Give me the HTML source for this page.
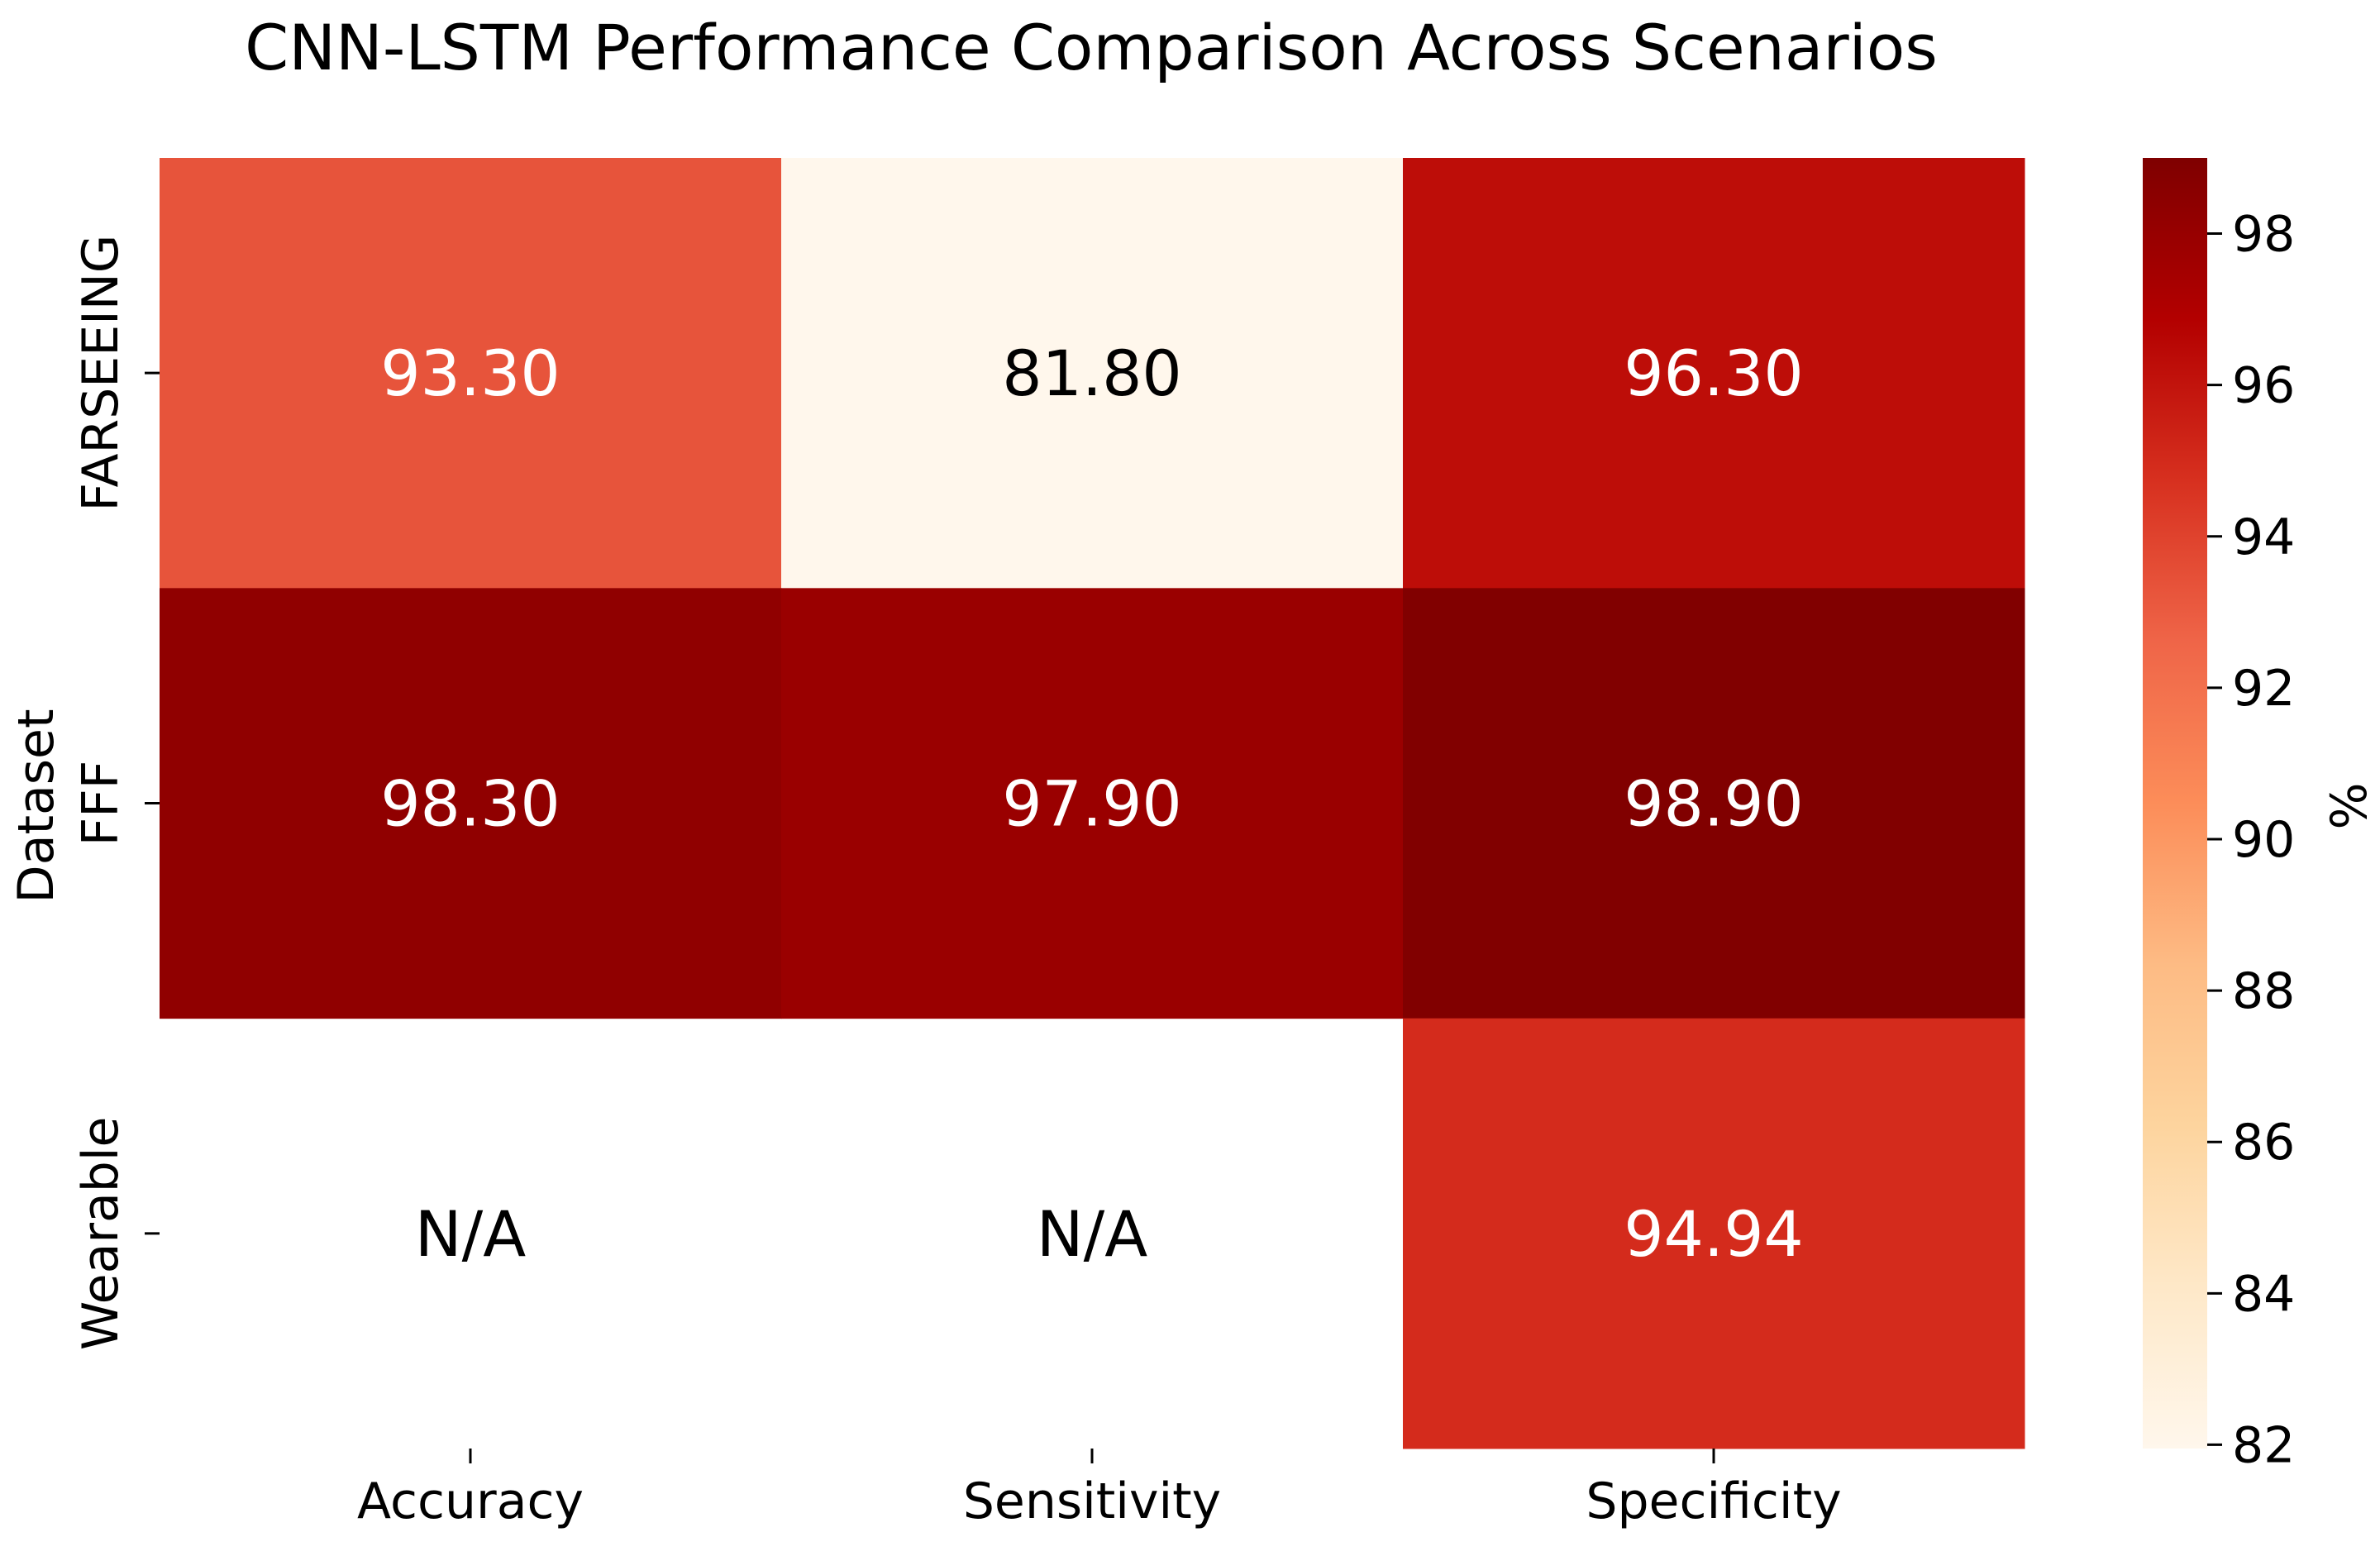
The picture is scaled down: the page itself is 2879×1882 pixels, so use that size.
<!DOCTYPE html>
<html><head><meta charset="utf-8"><style>
html,body{margin:0;padding:0;background:#fff;}
svg text{font-family:"DejaVu Sans","Liberation Sans",sans-serif;}
</style></head><body>
<svg id="chart" width="2879" height="1877" viewBox="0 0 2879 1877" xmlns="http://www.w3.org/2000/svg">
<defs>
<linearGradient id="cbgrad" x1="0" y1="1" x2="0" y2="0">
<stop offset="0" stop-color="#fff7ec"/><stop offset="0.125" stop-color="#fee8c8"/><stop offset="0.25" stop-color="#fdd49e"/><stop offset="0.375" stop-color="#fdbb84"/><stop offset="0.5" stop-color="#fc8d59"/><stop offset="0.625" stop-color="#ef6548"/><stop offset="0.75" stop-color="#d7301f"/><stop offset="0.875" stop-color="#b30000"/><stop offset="1" stop-color="#7f0000"/>
</linearGradient>
</defs>
<text x="1320" y="84" font-size="76" text-anchor="middle" fill="#000">CNN-LSTM Performance Comparison Across Scenarios</text>
<g id="cells"></g>
<g id="axes"></g>
<rect x="2592" y="191" width="78" height="1561" fill="url(#cbgrad)"/>
<g id="cbticks"></g>
<text font-size="60" text-anchor="middle" transform="translate(2862,975) rotate(-90)">%</text>
<text font-size="60" text-anchor="middle" transform="translate(64,975) rotate(-90)">Dataset</text>
</svg>
<script>
const categories = ["Accuracy","Sensitivity","Specificity"];
const datasets = ["FARSEEING","FFF","Wearable"];
const valuesFarseeing = [93.30, 81.80, 96.30];
const valuesFFF = [98.30, 97.90, 98.90];
const valuesWearable = [null, null, 94.94];
const cbTicks = [82,84,86,88,90,92,94,96,98];
const vmin = 81.95, vmax = 99.0;
const rows = [valuesFarseeing, valuesFFF, valuesWearable];

const L=193,R=2449,T=191,B=1752;
const cw=(R-L)/categories.length, rh=(B-T)/datasets.length;
const xPos=i=>L+i*cw, yPos=j=>T+j*rh;
const cbY=v=>1752-(v-vmin)/(vmax-vmin)*1561;
const stops=["#fff7ec","#fee8c8","#fdd49e","#fdbb84","#fc8d59","#ef6548","#d7301f","#b30000","#7f0000"];
function hex(h){return [1,3,5].map(i=>parseInt(h.substr(i,2),16));}
function color(v){let t=Math.max(0,Math.min(1,(v-vmin)/(vmax-vmin)))*(stops.length-1);let i=Math.min(Math.floor(t),stops.length-2),f=t-i;let a=hex(stops[i]),b=hex(stops[i+1]);return "rgb("+a.map((c,k)=>Math.round(c+(b[k]-c)*f)).join(",")+")";}
const NS="http://www.w3.org/2000/svg";
function mk(tag,attrs,parent,txt){const e=document.createElementNS(NS,tag);for(const k in attrs)e.setAttribute(k,attrs[k]);if(txt!==undefined)e.textContent=txt;parent.appendChild(e);return e;}
const cells=document.getElementById("cells"), axes=document.getElementById("axes"), cbt=document.getElementById("cbticks");
rows.forEach((row,j)=>{row.forEach((v,i)=>{
  const cx=xPos(i)+cw/2, cy=yPos(j)+rh/2;
  if(v!==null){
    const r=mk("rect",{x:xPos(i),y:yPos(j),width:cw+0.5,height:rh+0.5,fill:color(v)},cells);
    
    
  }
  const light = v!==null && (v-vmin)/(vmax-vmin)>0.5;
  const t=mk("text",{x:cx,y:cy+27,"font-size":76,"text-anchor":"middle",fill:light?"#fff":"#000"},cells,v===null?"N/A":v.toFixed(2));
  
  
});});
categories.forEach((c,i)=>{
  const x=xPos(i)+cw/2;
  const tk=mk("line",{x1:x,x2:x,y1:B,y2:B+18,stroke:"#000","stroke-width":3},axes);
  
  
  const t=mk("text",{x:x,y:1836,"font-size":60,"text-anchor":"middle"},axes,c);
  
  
});
datasets.forEach((d,j)=>{
  const y=yPos(j)+rh/2;
  const tk=mk("line",{x1:L-18,x2:L,y1:y,y2:y,stroke:"#000","stroke-width":3},axes);
  
  
  const t=mk("text",{"font-size":60,"text-anchor":"middle",transform:"translate(142,"+y+") rotate(-90)"},axes,d);
  
  
});
cbTicks.forEach(v=>{
  const y=cbY(v);
  const tk=mk("line",{x1:2670,x2:2688,y1:y,y2:y,stroke:"#000","stroke-width":3},cbt);
  
  
  const t=mk("text",{x:2700,y:y+21,"font-size":60},cbt,String(v));
  
  
});
</script>
</body></html>
